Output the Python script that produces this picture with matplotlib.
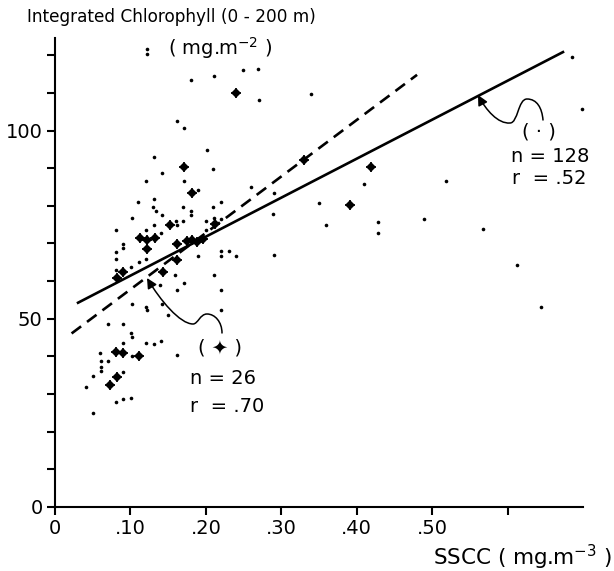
import numpy as np
import matplotlib
matplotlib.use("Agg")
import matplotlib.pyplot as plt
from matplotlib.path import Path
from matplotlib.patches import FancyArrowPatch

# small dots (all stations)
dot_x = [0.1315, 0.2009, 0.1413, 0.2097, 0.1205, 0.1709, 0.1898, 0.2592, 0.1103, 0.1311,
         0.1302, 0.1334, 0.1413, 0.1016, 0.1699, 0.1801, 0.1801, 0.2089, 0.2203, 0.1311,
         0.1599, 0.1612, 0.1699, 0.2000, 0.2106, 0.2203, 0.0808, 0.1205, 0.1400, 0.2000,
         0.0905, 0.0905, 0.0808, 0.0808, 0.1205, 0.1898, 0.2203, 0.2305, 0.2203, 0.2393,
         0.1011, 0.1109, 0.0808, 0.1589, 0.2106, 0.1709, 0.1391, 0.1612, 0.2203, 0.1016,
         0.1205, 0.1413, 0.2203, 0.1222, 0.1501, 0.0706, 0.0905, 0.1003, 0.1016, 0.1205,
         0.1311, 0.1404, 0.1612, 0.0596, 0.0605, 0.0706, 0.0605, 0.0605, 0.1016, 0.0905,
         0.0507, 0.0905, 0.0411, 0.0808, 0.0905, 0.1003, 0.0507, 0.2901, 0.2891, 0.3497,
         0.3589, 0.4093, 0.4287, 0.4287, 0.4891, 0.5179, 0.2901, 0.6857, 0.6989, 0.5673,
         0.1215, 0.1215, 0.1797, 0.2106, 0.2494, 0.2689, 0.2702, 0.3400, 0.1612, 0.1709,
         0.6120, 0.6440]
dot_y = [92.9, 94.7, 88.7, 89.8, 86.7, 86.7, 84.3, 85.0, 81.0, 81.7,
         79.8, 78.6, 77.6, 76.7, 79.8, 78.6, 77.5, 79.8, 81.0, 75.0,
         76.1, 74.8, 75.9, 75.9, 76.8, 76.6, 73.7, 73.5, 72.9, 73.7,
         69.9, 68.9, 67.7, 66.0, 66.0, 66.8, 67.9, 67.9, 66.7, 66.7,
         63.7, 65.1, 62.9, 61.7, 61.7, 59.5, 58.9, 57.7, 57.6, 54.0,
         53.0, 54.0, 52.3, 52.3, 50.9, 48.5, 48.5, 46.1, 45.2, 43.6,
         43.2, 44.1, 40.3, 40.9, 38.8, 38.8, 37.2, 36.2, 40.1, 43.6,
         34.7, 35.9, 31.9, 27.9, 28.8, 29.0, 25.1, 83.5, 77.7, 80.8,
         75.0, 85.7, 75.7, 72.9, 76.6, 86.7, 67.0, 119.4, 105.8, 73.9,
         121.7, 120.3, 113.4, 114.4, 116.2, 116.4, 108.1, 109.7, 102.5, 100.6,
         64.2, 53.0]

# marked stations (n = 26)
star_x = [0.1709, 0.1819, 0.1523, 0.1126, 0.1222, 0.1328, 0.1222, 0.1612, 0.1810, 0.1877,
          0.1964, 0.2119, 0.1612, 0.1434, 0.0905, 0.0817, 0.0808, 0.0905, 0.1113, 0.0817,
          0.0728, 0.3298, 0.4195, 0.3907, 0.2406, 0.1744]
star_y = [90.3, 83.4, 74.8, 71.5, 70.8, 71.5, 68.6, 69.9, 70.8, 70.4,
          71.3, 75.3, 65.5, 62.4, 62.4, 60.7, 41.2, 40.9, 40.2, 34.4,
          32.4, 92.2, 90.3, 80.3, 110.0, 70.6]

# regression lines (end points)
all_line_x = [0.029, 0.675]
all_line_y = [54.1, 121.0]
sub_line_x = [0.022, 0.480]
sub_line_y = [46.1, 114.8]

xticks = [0, 0.1, 0.2, 0.3, 0.4, 0.5, 0.6]
xticklabels = ["0", ".10", ".20", ".30", ".40", ".50", ""]
yticks = list(range(0, 121, 10))
yticklabels = [str(v) if v % 50 == 0 else "" for v in yticks]

W, H = 614, 571


def px(x, y):
    return (x / W, 1 - y / H)


fig = plt.figure(figsize=(W / 100, H / 100), dpi=100)
ax = fig.add_axes([55 / W, 64 / H, 528 / W, 468.7 / H])

ax.plot(all_line_x, all_line_y, color="black", lw=1.9, solid_capstyle="butt")
ax.plot(sub_line_x, sub_line_y, color="black", lw=1.9, dashes=(4.5, 2.8))
ax.plot(dot_x, dot_y, "o", color="black", ms=2.6, mew=0, clip_on=False)
ax.plot(star_x, star_y, "D", color="black", ms=4.6, mew=0, clip_on=False)
ax.plot(star_x, star_y, "+", color="black", ms=7, mew=1.2, clip_on=False)

ax.set_xlim(0, 0.70)
ax.set_ylim(0, 124.5)
ax.spines["top"].set_visible(False)
ax.spines["right"].set_visible(False)
ax.spines["left"].set_linewidth(1.5)
ax.spines["bottom"].set_linewidth(1.5)
ax.set_xticks(xticks)
ax.set_xticklabels(xticklabels)
ax.set_yticks(yticks)
ax.set_yticklabels(yticklabels)
ax.tick_params(length=6, width=1.5, labelsize=14, pad=3)

fig.text(*px(27, 17), "Integrated Chlorophyll (0 - 200 m)", fontsize=12.2,
         va="center", ha="left")
fig.text(*px(168, 48), "( mg.m$^{-2}$ )", fontsize=14, va="center", ha="left")
fig.text(*px(612, 557), "SSCC ( mg.m$^{-3}$ )", fontsize=15.5, va="center", ha="right")

fig.text(*px(220, 348), "( ✦ )", fontsize=14, va="center", ha="center")
fig.text(*px(190, 378), "n = 26", fontsize=14, va="center", ha="left")
fig.text(*px(190, 407), "r  = .70", fontsize=14, va="center", ha="left")

fig.text(*px(539, 132), "( · )", fontsize=14, va="center", ha="center")
fig.text(*px(511, 157), "n = 128", fontsize=14, va="center", ha="left")
fig.text(*px(512, 178), "r  = .52", fontsize=14, va="center", ha="left")


def curve(points):
    verts = [px(*p) for p in points]
    codes = [Path.MOVETO] + [Path.CURVE4] * (len(verts) - 1)
    return Path(verts, codes)


callout_all = curve([(543, 120), (542, 108), (537, 99), (527, 99),
                     (518, 99), (518, 123), (510, 123),
                     (498, 124), (486, 110), (478, 95)])
callout_sub = curve([(222, 333), (222, 322), (215, 314), (207, 314),
                     (200, 314), (198, 324), (193, 324),
                     (180, 324), (160, 300), (147, 278)])
for p in (callout_all, callout_sub):
    fig.patches.append(FancyArrowPatch(path=p, transform=fig.transFigure,
                                       arrowstyle="-|>,head_length=6,head_width=3",
                                       color="black", lw=1.1))

fig.savefig("out.png", dpi=100)
